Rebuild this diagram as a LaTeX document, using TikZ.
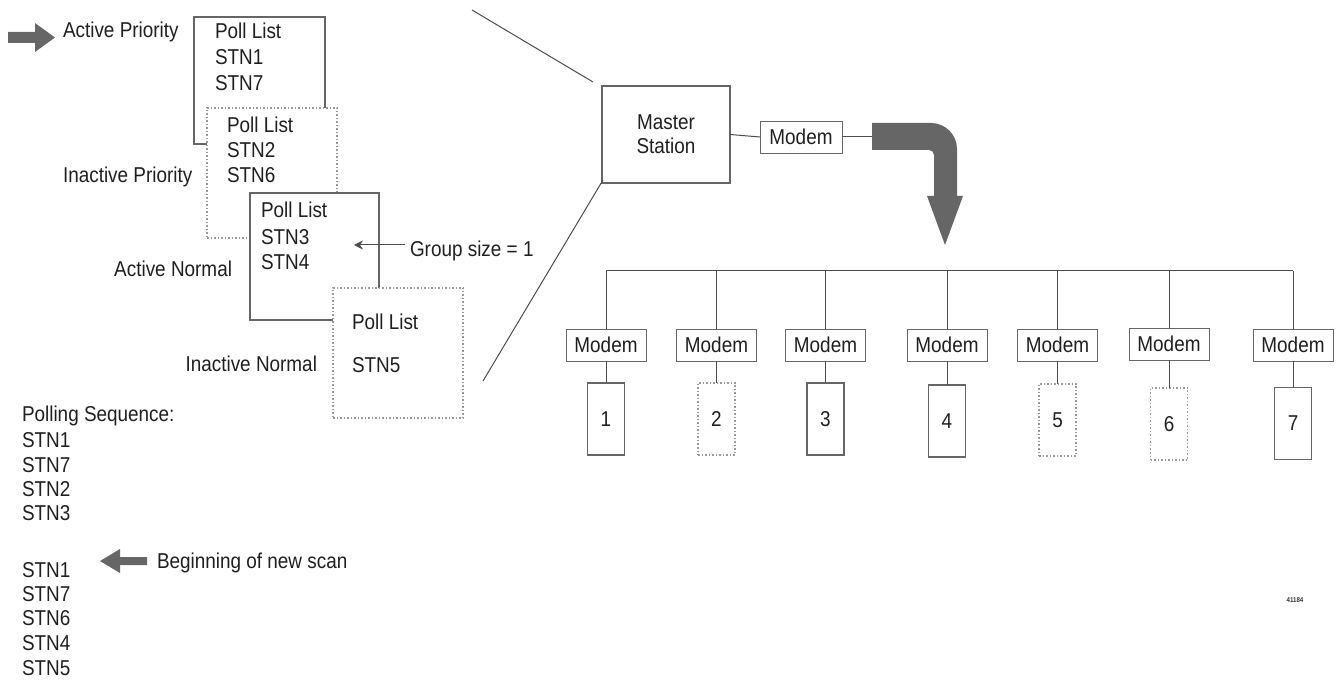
\documentclass[tikz,border=0pt]{standalone}
\usepackage{fontspec}
\setmainfont{Liberation Sans}[FakeStretch=0.88]
\usetikzlibrary{arrows.meta,calc}
\newcommand\fsz{\fontsize{21.5}{24}\selectfont}
\tikzset{
  txt/.style={inner sep=0pt, outer sep=0pt, text=black!88, font=\fsz},
  pbox/.style={draw=black!60, line width=1.2pt, fill=white, inner sep=0pt, outer sep=0pt, text=black!88, font=\fsz},
  dbox/.style={pbox, draw=black!40, dash pattern=on 1.5pt off 2pt},
  modembox/.style={pbox, line width=0.9pt, minimum width=80pt, minimum height=32pt},
  stnbox/.style={pbox, minimum width=37pt, minimum height=72pt},
  dstnbox/.style={dbox, minimum width=37pt, minimum height=72pt},
  ln/.style={draw=black!70, line width=1pt},
  garrow/.style={fill=black!60},
}
\begin{document}
\begin{tikzpicture}[x=1pt,y=-1pt]
\useasboundingbox (0,0) rectangle (1339,684);

% ---- left top arrow
\fill[garrow] (8,32) -- (35,32) -- (35,23) -- (55,37.5) -- (35,52) -- (35,43) -- (8,43) -- cycle;

% ---- poll list boxes
\node[pbox, minimum width=131pt, minimum height=127pt] (ap) at (259.5,80.5) {};
\node[txt, anchor=base west] (ap1) at (215,39) {Poll List};
\node[txt, anchor=base west] (ap2) at (215,65) {STN1};
\node[txt, anchor=base west] (ap3) at (215,91) {STN7};

\node[dbox, minimum width=130pt, minimum height=130pt] (ip) at (272,173) {};
\node[txt, anchor=base west] (ip1) at (227,133) {Poll List};
\node[txt, anchor=base west] (ip2) at (227,158) {STN2};
\node[txt, anchor=base west] (ip3) at (227,183) {STN6};

\node[pbox, minimum width=129pt, minimum height=127pt] (an) at (314.5,256.5) {};
\node[txt, anchor=base west] (an1) at (261,218) {Poll List};
\node[txt, anchor=base west] (an2) at (261,245) {STN3};
\node[txt, anchor=base west] (an3) at (261,270) {STN4};

\node[dbox, minimum width=130pt, minimum height=130pt] (in) at (398,353) {};
\node[txt, anchor=base west] (in1) at (352,330) {Poll List};
\node[txt, anchor=base west] (in2) at (352,373) {STN5};

% ---- labels
\node[txt, anchor=base west] (lap) at (63,38) {Active Priority};
\node[txt, anchor=base west] (lip) at (63,183) {Inactive Priority};
\node[txt, anchor=base east] (lan) at (232,277) {Active Normal};
\node[txt, anchor=base east] (lin) at (317,372) {Inactive Normal};

% ---- group size
\node[txt, anchor=base west] (gs) at (410,257) {Group size = 1};
\coordinate (gtip) at (354,245);
\coordinate (gtail) at (405,245);
\draw[ln, -{Stealth[length=9pt,width=9pt]}] (gtail) -- (gtip);

% ---- polling sequence
\node[txt, anchor=base west] (ps0) at (22,422) {Polling Sequence:};
\node[txt, anchor=base west] (ps1) at (22,447) {STN1};
\node[txt, anchor=base west] (ps2) at (22,472) {STN7};
\node[txt, anchor=base west] (ps3) at (22,496) {STN2};
\node[txt, anchor=base west] (ps4) at (22,520) {STN3};
\node[txt, anchor=base west] (ps5) at (22,577) {STN1};
\node[txt, anchor=base west] (ps6) at (22,601) {STN7};
\node[txt, anchor=base west] (ps7) at (22,625) {STN6};
\node[txt, anchor=base west] (ps8) at (22,650) {STN4};
\node[txt, anchor=base west] (ps9) at (22,675) {STN5};
\node[txt, anchor=base west] (bns) at (157,568) {Beginning of new scan};
\fill[garrow] (147,557) -- (120,557) -- (120,549) -- (100,561) -- (120,573) -- (120,565) -- (147,565) -- cycle;

% ---- master station
\node[pbox, minimum width=128pt, minimum height=97pt, align=center] (ms) at (666,134.5) {Master\\Station};
\node[modembox, minimum width=82pt] (m0) at (801,137) {Modem};
\coordinate (z1) at (472,10);
\coordinate (z2) at (593,82);
\coordinate (z3) at (483,381);
\coordinate (z4) at ($(ms.south west)+(1,-3)$);
\draw[ln] (z1) -- (z2);
\draw[ln] (z3) -- (z4);
\draw[ln] (ms.east) -- (m0.west);
\coordinate (ba) at (872,137);
\draw[ln] (m0.east) -- (ba);

% ---- big bent arrow
\fill[garrow] (872,123) [rounded corners=26pt] -- (957,123) [sharp corners] -- (957,196) -- (963,196)
  -- (945,245) -- (927,196) -- (934,196) [rounded corners=5pt] -- (934,150) [sharp corners] -- (872,150) -- cycle;

% ---- bus, modems and stations
\coordinate (busL) at (606,271);
\coordinate (busR) at (1293,271);
\draw[ln] (busL) -- (busR);

\node[modembox] (m1) at (606,345) {Modem};
\node[modembox] (m2) at (716.5,345) {Modem};
\node[modembox] (m3) at (825.5,345) {Modem};
\node[modembox] (m4) at (947,345) {Modem};
\node[modembox] (m5) at (1057.5,345) {Modem};
\node[modembox] (m6) at (1169,344) {Modem};
\node[modembox] (m7) at (1293,345) {Modem};

\node[stnbox]  (s1) at (606,419) {1};
\node[dstnbox] (s2) at (716.5,419) {2};
\node[stnbox]  (s3) at (825.5,419) {3};
\node[stnbox]  (s4) at (947,421) {4};
\node[dstnbox] (s5) at (1057.5,420) {5};
\node[dstnbox] (s6) at (1169,424) {6};
\node[stnbox]  (s7) at (1293,423.5) {7};

\foreach \i in {1,...,7}{
  \draw[ln] (m\i.north |- busL) -- (m\i.north);
  \draw[ln] (m\i.south) -- (s\i.north);
}

% ---- figure number
\node[inner sep=0pt, font=\fontsize{7}{8}\selectfont\bfseries, text=black!80] (fig) at (1295,600) {41184};
\end{tikzpicture}
\end{document}
